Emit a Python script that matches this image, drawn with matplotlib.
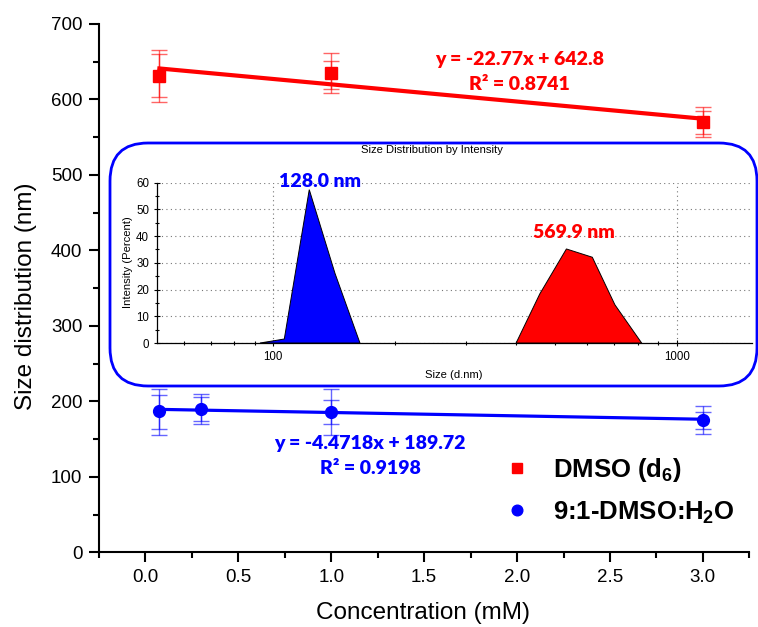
import matplotlib
matplotlib.use("Agg")
import matplotlib.pyplot as plt
from matplotlib.patches import FancyBboxPatch
from matplotlib.transforms import Affine2D
from matplotlib.ticker import MultipleLocator, LogLocator, NullFormatter, FixedLocator
import numpy as np

plt.rcParams['font.family'] = ['Liberation Sans', 'DejaVu Sans']
plt.rcParams['mathtext.fontset'] = 'custom'
plt.rcParams['mathtext.rm'] = 'Liberation Sans'
plt.rcParams['mathtext.bf'] = 'Liberation Sans:bold'

# ---------------- data ----------------
red_x = [0.075, 1.0, 3.0]
red_y = [631, 635, 570]
red_err_outer_lo = [34, 26, 19.5]
red_err_outer_hi = [34, 26, 19.5]
red_err_inner_lo = [28, 21, 16]
red_err_inner_hi = [29, 16, 15]
red_slope, red_icpt = -22.77, 642.8

blue_x = [0.075, 0.3, 1.0, 3.0]
blue_y = [187.5, 189.5, 186, 175.5]
blue_err_outer_lo = [31.5, 20, 30.6, 18.8]
blue_err_outer_hi = [29.5, 20.2, 31, 18.7]
blue_err_inner_lo = [23.5, 15.2, 16, 12.2]
blue_err_inner_hi = [20.5, 15.7, 15.7, 10.7]
blue_slope, blue_icpt = -4.4718, 189.72

series_labels = [r'DMSO (d$_\mathbf{6}$)', r'9:1-DMSO:H$_\mathbf{2}$O']
red_eq = ['y = -22.77x + 642.8', 'R² = 0.8741']
blue_eq = ['y = -4.4718x + 189.72', 'R² = 0.9198']

x_ticks = [0.0, 0.5, 1.0, 1.5, 2.0, 2.5, 3.0]
y_ticks = [0, 100, 200, 300, 400, 500, 600, 700]

# inset (DLS size distribution)
blue_size = [92.7, 100, 106.5, 122.8, 142.2, 164]
blue_int = [0, 0.8, 1.5, 57.4, 26.1, 0]
red_size = [400, 458, 533, 618, 703, 819]
red_int = [0, 18.4, 35.2, 32.1, 14.3, 0]
peak_labels = ['128.0 nm', '569.9 nm']
inset_y_ticks = [0, 10, 20, 30, 40, 50, 60]

RED = '#ff0000'
BLUE = '#0000ff'
W, H = 758, 627

fig = plt.figure(figsize=(W / 100, H / 100), dpi=100)

# ---------------- main axes ----------------
ax = fig.add_axes([99 / W, 1 - 552.3 / H, (749.3 - 99) / W, (552.3 - 24) / H])
ax.set_xlim(-0.25, 3.25)
ax.set_ylim(0, 700)
for s in ['top', 'right']:
    ax.spines[s].set_visible(False)
for s in ['left', 'bottom']:
    ax.spines[s].set_linewidth(1.5)
ax.set_xticks(x_ticks)
ax.set_xticklabels([f'{v:.1f}' for v in x_ticks])
ax.set_yticks(y_ticks)
ax.xaxis.set_minor_locator(MultipleLocator(0.25))
ax.yaxis.set_minor_locator(MultipleLocator(50))
ax.tick_params(which='major', length=7, width=1.5, labelsize=13.5, pad=5, colors='black')
ax.tick_params(which='minor', length=4.5, width=1.5)

# fit lines
xf_r = np.array([min(red_x), max(red_x)])
ax.plot(xf_r, red_slope * xf_r + red_icpt, color=RED, lw=3.0, zorder=3)
xf_b = np.array([min(blue_x), max(blue_x)])
ax.plot(xf_b, blue_slope * xf_b + blue_icpt, color=BLUE, lw=2.3, zorder=3)

# error bars (two sets each)
for xs, ys, lo, hi, c in [
    (red_x, red_y, red_err_outer_lo, red_err_outer_hi, RED),
    (red_x, red_y, red_err_inner_lo, red_err_inner_hi, RED),
    (blue_x, blue_y, blue_err_outer_lo, blue_err_outer_hi, BLUE),
    (blue_x, blue_y, blue_err_inner_lo, blue_err_inner_hi, BLUE),
]:
    ax.errorbar(xs, ys, yerr=[lo, hi], fmt='none', ecolor=c, elinewidth=1.0,
                capsize=5.5, capthick=1.0, alpha=0.6, zorder=2)

h_red, = ax.plot(red_x, red_y, 's', color=RED, ms=8.5, zorder=4, label=series_labels[0])
h_blue, = ax.plot(blue_x, blue_y, 'o', color=BLUE, ms=8.5, zorder=4, label=series_labels[1])

ax.set_xlabel('Concentration (mM)', fontsize=17.5)
ax.set_ylabel('Size distribution (nm)', fontsize=17.5)
ax.xaxis.set_label_coords(0.498, -0.095)
ax.yaxis.set_label_coords(-0.095, 0.485)

eqfont = dict(family=['Lato', 'DejaVu Sans'], weight='heavy', fontsize=14, ha='center', va='center')
ax.text(2.013, 652.3, red_eq[0], color=RED, **eqfont)
ax.text(2.013, 619.2, red_eq[1], color=RED, **eqfont)
ax.text(1.21, 144.8, blue_eq[0], color=BLUE, **eqfont)
ax.text(1.21, 111.3, blue_eq[1], color=BLUE, **eqfont)

leg = fig.legend(handles=[h_red, h_blue], loc='upper left',
                 bbox_to_anchor=(503 / W, 1 - 456 / H), bbox_transform=fig.transFigure,
                 frameon=False, prop=dict(family='Liberation Sans', weight='bold', size=18.5),
                 handlelength=1.1, handletextpad=0.85, labelspacing=0.6,
                 borderpad=0, borderaxespad=0, numpoints=1, markerscale=0.9)

# ---------------- rounded inset frame ----------------
px2fig = Affine2D().scale(1 / W, -1 / H).translate(0, 1) + fig.transFigure
box = FancyBboxPatch((110, 143), 757 - 110, 386 - 143,
                     boxstyle='round,pad=0,rounding_size=38',
                     transform=px2fig, facecolor='white', edgecolor=BLUE,
                     linewidth=2.0, zorder=1)
fig.patches.append(box)

# ---------------- inset axes ----------------
axi = fig.add_axes([156.7 / W, 1 - 343 / H, (751.7 - 156.7) / W, (343 - 182.7) / H], zorder=2)
axi.patch.set_alpha(0)
axi.set_xscale('log')
axi.set_xlim(51.4, 1535)
axi.set_ylim(0, 60)
axi.set_yticks(inset_y_ticks)
axi.yaxis.set_minor_locator(MultipleLocator(5))
axi.xaxis.set_major_locator(FixedLocator([100, 1000]))
axi.xaxis.set_minor_locator(LogLocator(base=10, subs=np.arange(2, 10)))
axi.xaxis.set_minor_formatter(NullFormatter())
axi.set_xticklabels(['100', '1000'])
for s in ['top', 'right']:
    axi.spines[s].set_visible(False)
for s in ['left', 'bottom']:
    axi.spines[s].set_linewidth(0.9)
axi.tick_params(which='major', direction='inout', length=5, width=0.8, labelsize=8.3, pad=3)
axi.tick_params(which='minor', direction='inout', length=3, width=0.8)
axi.grid(True, which='major', linestyle=(0, (1, 3)), color='#777777', linewidth=0.8)
axi.set_axisbelow(True)

axi.fill(blue_size, blue_int, facecolor=BLUE, edgecolor='black', linewidth=0.7, zorder=3)
axi.fill(red_size, red_int, facecolor=RED, edgecolor='black', linewidth=0.7, zorder=3)

pkfont = dict(family=['Lato', 'DejaVu Sans'], weight='heavy', fontsize=14, ha='center', va='center', zorder=4)
axi.text(130.6, 60.4, peak_labels[0], color=BLUE, **pkfont)
axi.text(556.6, 41.3, peak_labels[1], color=RED, **pkfont)

axi.text(0.4627, 1.204, 'Size Distribution by Intensity', transform=axi.transAxes,
         ha='center', va='center', fontsize=8.1)
axi.set_ylabel('Intensity (Percent)', fontsize=8.1)
axi.yaxis.set_label_coords(-0.04, 0.507)
axi.set_xlabel('Size (d.nm)', fontsize=8.1)
axi.xaxis.set_label_coords(0.5, -0.17)

fig.savefig('out.png', dpi=100)
